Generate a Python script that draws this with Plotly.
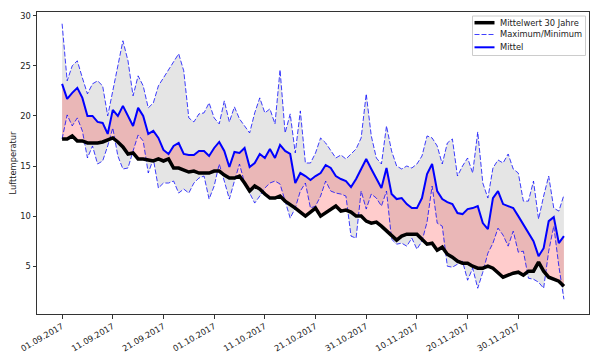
import pandas as pd
import plotly.graph_objects as go

start_date = "2017-09-01"
n_days = 100

max_t = [29.2, 23.5, 25.0, 25.5, 23.8, 22.2, 23.2, 23.5, 23.0, 20.0,
         22.5, 25.0, 27.5, 25.5, 22.0, 24.0, 23.0, 20.8, 21.3, 23.0,
         23.8, 24.5, 25.3, 26.2, 24.5, 19.8, 19.4, 20.2, 20.3, 21.3,
         19.8, 19.2, 21.5, 19.4, 20.9, 19.7, 19.0, 18.3, 20.3, 21.8,
         20.3, 20.7, 19.2, 24.6, 18.3, 20.2, 16.3, 20.5, 15.3, 15.3,
         16.3, 17.8, 17.3, 16.5, 15.8, 16.1, 15.7, 16.2, 16.7, 17.8,
         22.2, 18.0, 15.8, 15.2, 19.0, 16.5, 15.0, 14.7, 15.0, 14.8,
         15.2, 16.0, 18.0, 17.8, 17.0, 15.2, 17.3, 17.7, 14.0, 15.0,
         15.8, 14.3, 18.4, 13.3, 11.8, 14.8, 15.6, 15.3, 16.2, 14.7,
         14.3, 11.5, 11.5, 13.5, 9.7, 12.0, 14.0, 10.8, 10.5, 12.1]

min_t = [17.7, 20.1, 19.0, 19.8, 18.5, 15.8, 17.0, 15.2, 15.5, 17.0,
         18.8, 16.0, 14.7, 14.8, 16.5, 18.1, 17.5, 14.3, 15.7, 12.8,
         13.3, 13.3, 13.5, 12.3, 12.7, 12.3, 13.3, 13.8, 14.0, 11.7,
         13.0, 15.2, 13.5, 11.7, 13.5, 15.2, 13.3, 12.3, 11.3, 12.0,
         12.8, 13.3, 13.5, 13.2, 11.5, 9.8, 10.8, 12.5, 13.3, 10.8,
         11.0, 12.0, 13.5, 12.5, 12.3, 12.2, 12.0, 8.0, 7.8, 12.5,
         10.7, 12.2, 11.8, 11.0, 12.5, 7.7, 7.2, 7.3, 7.0, 7.8,
         6.7, 7.5, 9.4, 13.0, 9.3, 9.0, 5.0, 4.9, 5.2, 5.5,
         3.6, 4.8, 2.8, 4.4, 6.3, 7.3, 8.8, 8.1, 7.0, 8.5,
         6.4, 6.5, 3.8, 3.7, 3.4, 2.8, 6.5, 9.0, 5.0, 1.7]

mittel = [23.2, 21.7, 22.3, 22.8, 21.8, 20.0, 20.0, 19.4, 19.3, 18.2,
          20.6, 20.0, 21.0, 20.0, 19.0, 20.8, 20.0, 18.2, 18.5, 17.8,
          16.6, 16.2, 17.0, 17.3, 16.2, 16.1, 16.1, 16.5, 16.5, 16.0,
          16.8, 17.4, 16.5, 14.9, 16.4, 16.3, 16.8, 14.9, 15.3, 16.2,
          15.8, 16.7, 15.8, 17.1, 16.5, 16.2, 13.3, 14.3, 14.0, 13.6,
          14.0, 14.3, 15.1, 14.8, 14.0, 13.7, 13.5, 12.9, 13.7, 14.7,
          15.7, 14.7, 13.7, 12.8, 14.8, 12.2, 11.7, 11.8, 11.2, 10.8,
          10.8, 11.8, 14.2, 15.2, 12.5, 11.7, 11.4, 11.2, 10.3, 10.2,
          10.7, 10.8, 11.0, 9.3, 8.7, 11.8, 12.5, 11.2, 11.0, 10.8,
          10.0, 9.2, 8.3, 7.5, 6.0, 6.8, 9.5, 9.9, 7.3, 8.0]

mean30 = [17.7, 17.7, 18.0, 17.5, 17.5, 17.3, 17.3, 17.3, 17.4, 17.6,
          17.8, 17.4, 16.9, 16.2, 16.3, 15.7, 15.7, 15.6, 15.5, 15.7,
          15.5, 15.7, 14.8, 14.8, 14.6, 14.4, 14.5, 14.3, 14.3, 14.3,
          14.5, 14.5, 14.1, 13.8, 13.8, 14.0, 13.3, 12.5, 13.0, 12.7,
          12.2, 11.8, 11.8, 12.0, 11.5, 11.2, 10.8, 10.4, 10.0, 10.4,
          10.8, 10.0, 10.3, 10.7, 11.0, 10.5, 10.6, 10.4, 10.0, 10.0,
          9.5, 9.3, 9.4, 9.0, 8.5, 8.0, 7.6, 8.0, 8.2, 8.2,
          8.2, 7.7, 7.2, 7.3, 6.6, 6.9, 6.2, 5.9, 5.5, 5.3,
          5.3, 5.0, 4.8, 4.8, 5.0, 4.8, 4.4, 3.9, 4.1, 4.3,
          4.4, 4.1, 4.5, 4.5, 5.4, 4.5, 3.9, 3.7, 3.5, 3.0]

tick_dates = ["2017-09-01", "2017-09-11", "2017-09-21", "2017-10-01", "2017-10-11",
              "2017-10-21", "2017-10-31", "2017-11-10", "2017-11-20", "2017-11-30"]
tick_labels = ["01.09.2017", "11.09.2017", "21.09.2017", "01.10.2017", "11.10.2017",
               "21.10.2017", "31.10.2017", "10.11.2017", "20.11.2017", "30.11.2017"]

label_mean30 = "Mittelwert 30 Jahre"
label_maxmin = "Maximum/Minimum"
label_mittel = "Mittel"
y_title = "Lufttemperatur"

dates = pd.date_range(start_date, periods=n_days, freq="D")

FONT = "DejaVu Sans"
FS = 8.3
TXT = "#222222"
OFF = 8  # page body margin
W, H = 600 - OFF, 360 - OFF
# desired plot area in page pixels: x 37..589, y 12..314
ML, MT = 37 - OFF, 12 - OFF
MR, MB = W - (589 - OFF), H - (314 - OFF)
PW, PH = W - ML - MR, H - MT - MB


def px_x(p):
    return (p - OFF - ML) / PW


def px_y(p):
    return (H - MB - (p - OFF)) / PH


fig = go.Figure()

fig.add_trace(go.Scatter(x=dates, y=min_t, mode="lines", line=dict(width=0),
                         showlegend=False, hoverinfo="skip"))
fig.add_trace(go.Scatter(x=dates, y=max_t, mode="lines", line=dict(width=0),
                         fill="tonexty", fillcolor="rgb(229,229,229)",
                         showlegend=False, hoverinfo="skip"))
fig.add_trace(go.Scatter(x=dates, y=mean30, mode="lines", line=dict(width=0),
                         showlegend=False, hoverinfo="skip"))
fig.add_trace(go.Scatter(x=dates, y=mittel, mode="lines", line=dict(width=0),
                         fill="tonexty", fillcolor="rgba(255,0,0,0.2)",
                         showlegend=False, hoverinfo="skip"))

dash_line = dict(color="rgba(0,0,255,0.75)", width=1, dash="5px,2px")
mittel_line = dict(color="#0000ff", width=2)
mean_line = dict(color="#000000", width=3.5)

fig.add_trace(go.Scatter(x=dates, y=min_t, mode="lines", line=dash_line, showlegend=False))
fig.add_trace(go.Scatter(x=dates, y=max_t, mode="lines", line=dash_line,
                         name=label_maxmin, showlegend=False))
fig.add_trace(go.Scatter(x=dates, y=mittel, mode="lines", line=mittel_line,
                         name=label_mittel, showlegend=False))
fig.add_trace(go.Scatter(x=dates, y=mean30, mode="lines", line=mean_line,
                         name=label_mean30, showlegend=False))

# manual legend (matplotlib-like), page-pixel positions
shapes = [dict(type="rect", xref="paper", yref="paper",
               x0=px_x(472.5), x1=px_x(585.5), y0=px_y(55.5), y1=px_y(16),
               fillcolor="rgba(255,255,255,0.8)", line=dict(color="#cccccc", width=1))]
annotations = []
entries = [(label_mean30, mean_line, 22.7), (label_maxmin, dash_line, 34.5), (label_mittel, mittel_line, 47.3)]
for text, ln, yy in entries:
    shapes.append(dict(type="line", xref="paper", yref="paper",
                       x0=px_x(474.5), x1=px_x(494.5), y0=px_y(yy), y1=px_y(yy),
                       line=dict(color=ln["color"], width=ln["width"], dash=ln.get("dash", "solid"))))
    annotations.append(dict(xref="paper", yref="paper", x=px_x(497.5), y=px_y(yy),
                            text=text, showarrow=False, xanchor="left", yanchor="middle",
                            font=dict(family=FONT, size=FS, color=TXT)))

axis_common = dict(showline=True, linecolor="#333333", linewidth=1, mirror=True,
                   ticks="outside", ticklen=3.5, tickwidth=1, tickcolor="#333333",
                   showgrid=False, zeroline=False, automargin=False,
                   tickfont=dict(family=FONT, size=FS, color=TXT))

fig.update_layout(
    width=W, height=H,
    margin=dict(l=ML, r=MR, t=MT, b=MB),
    paper_bgcolor="white", plot_bgcolor="white",
    font=dict(family=FONT, size=FS, color=TXT),
    showlegend=False,
    shapes=shapes, annotations=annotations,
    xaxis=dict(axis_common, type="date",
               range=["2017-08-27 01:12", "2017-12-13 22:48"],
               tickvals=tick_dates, ticktext=tick_labels, tickangle=-30),
    yaxis=dict(axis_common, range=[0.23, 30.37], tick0=0, dtick=5,
               title=dict(text=y_title, standoff=3,
                          font=dict(family=FONT, size=FS, color=TXT))),
)

fig.write_html("out.html")
